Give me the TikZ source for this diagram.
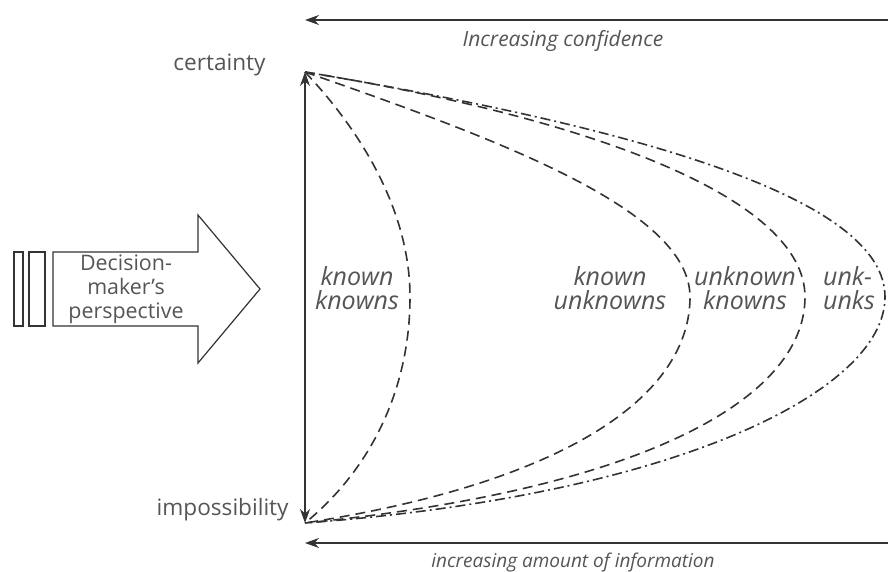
\documentclass[tikz,border=0pt]{standalone}
\usepackage{fontspec}
\setmainfont{Open Sans}
\usetikzlibrary{arrows.meta}
\definecolor{ink}{HTML}{333333}
\definecolor{txt}{HTML}{555555}
\tikzset{
  lbl/.style={text=txt,font=\itshape\fontsize{12.5}{12}\selectfont,align=center,inner sep=1pt},
  endlbl/.style={text=txt,font=\fontsize{11.3}{13}\selectfont,anchor=east,inner sep=1pt},
  bound/.style={draw=ink,line width=0.8pt,dash pattern=on 5pt off 3pt},
  axis/.style={draw=ink,line width=0.8pt,-{Stealth[length=7pt,width=5pt]}}
}
\begin{document}
\begin{tikzpicture}[x=0.5pt,y=-0.5pt]
\useasboundingbox (0,0) rectangle (888,572);
% end points of the scale
\coordinate (cert) at (305,72);
\coordinate (imp) at (305,523);
\node[endlbl] (certlbl) at (268,65) {certainty};
\node[endlbl] (implbl) at (291,510) {impossibility};
\draw[draw=ink,line width=0.8pt,{Stealth[length=7pt,width=5pt]}-{Stealth[length=7pt,width=5pt]}] (cert) -- (imp);
% top and bottom arrows
\coordinate (topr) at (888,20);
\coordinate (topl) at (305,20);
\coordinate (botr) at (888,543);
\coordinate (botl) at (305,543);
\draw[axis] (topr) -- (topl);
\draw[axis] (botr) -- (botl);
\node[lbl,font=\itshape\fontsize{10.5}{12}\selectfont] (conf) at (563,41) {Increasing confidence};
\node[lbl,font=\itshape\fontsize{9.5}{12}\selectfont] (info) at (573,563) {increasing amount of information};
% boundaries
\coordinate (kk) at (410,297);
\coordinate (ku) at (690,297);
\coordinate (uk) at (805,297);
\coordinate (uu) at (885,297);
\draw[bound] (cert) .. controls (360,130) and (410,210) .. (kk)
                    .. controls (410,390) and (370,470) .. (imp);
\draw[bound] (cert) .. controls (500,140) and (690,210) .. (ku)
                    .. controls (690,390) and (580,480) .. (imp);
\draw[bound] (cert) .. controls (600,120) and (805,200) .. (uk)
                    .. controls (805,400) and (640,490) .. (imp);
\draw[draw=ink,line width=0.8pt,dash pattern=on 5pt off 2pt on 1pt off 2pt]
             (cert) .. controls (650,130) and (885,200) .. (uu)
                    .. controls (885,390) and (680,495) .. (imp);
\node[lbl] (kklbl) at (357,288) {known\\knowns};
\node[lbl] (kulbl) at (610,288) {known\\unknowns};
\node[lbl] (uklbl) at (745,288) {unknown\\knowns};
\node[lbl,align=left] (uulbl) at (849,288) {unk-\\unks};
% decision-maker's arrow
\draw[draw=ink,line width=0.6pt] (53,252) -- (198,252) -- (198,215) -- (260,289) -- (198,363) -- (198,326) -- (53,326) -- cycle;
\draw[draw=ink,line width=0.6pt] (14,252) rectangle (23,326);
\draw[draw=ink,line width=0.6pt] (29,252) rectangle (45,326);
\node[text=txt,font=\fontsize{10.7}{12}\selectfont,align=center] (dm) at (126,289) {Decision-\\maker's\\perspective};
\end{tikzpicture}
\end{document}
